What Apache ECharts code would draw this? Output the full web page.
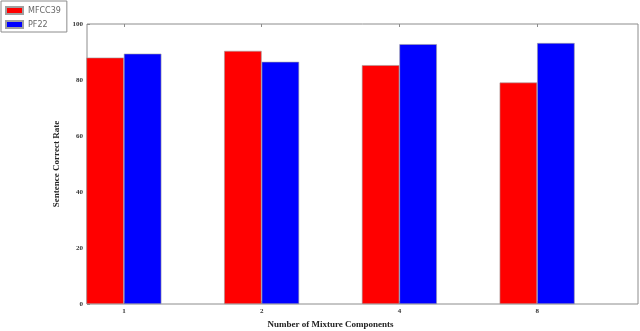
<!DOCTYPE html>
<html>
<head>
<meta charset="utf-8">
<script src="https://cdn.jsdelivr.net/npm/echarts@6/dist/echarts.min.js"></script>
<style>html,body{margin:0;padding:0;background:#fff;}#c{width:640px;height:331px;}</style>
</head>
<body>
<div id="c"></div>
<script>
var categories = ['1', '2', '4', '8'];
var mfcc39 = [88.0, 90.4, 85.3, 79.1];
var pf22 = [89.4, 86.5, 92.8, 93.2];
var seriesNames = ['MFCC39', 'PF22'];
var yMin = 0, yMax = 100, yStep = 20;

var chart = echarts.init(document.getElementById('c'), null, {renderer: 'canvas'});
var serif = 'Liberation Serif, DejaVu Serif, serif';
chart.setOption({
  animation: false,
  backgroundColor: '#fff',
  grid: [
    {left: 87, top: 24, width: 551, height: 280, show: true, borderColor: '#8c8c8c', borderWidth: 1, backgroundColor: 'transparent', outerBoundsMode: 'none', containLabel: false},
    {left: 55, top: 24, width: 551, height: 280, show: false, outerBoundsMode: 'none', containLabel: false}
  ],
  legend: {
    left: 1, top: 1, orient: 'vertical', itemWidth: 17, itemHeight: 7, itemGap: 5,
    padding: [5, 6, 3, 4], borderColor: '#8c8c8c', borderWidth: 1, backgroundColor: '#fff',
    textStyle: {fontFamily: 'DejaVu Sans, sans-serif', fontSize: 8, color: '#666', padding: [0, 0, 0, 0]},
    icon: 'rect',
    data: seriesNames
  },
  xAxis: [
    {gridIndex: 0, type: 'value', min: 0, max: 4, show: false},
    {gridIndex: 1, type: 'category', data: categories, boundaryGap: true, position: 'bottom',
     axisLine: {show: false},
     axisTick: {show: true, inside: true, alignWithLabel: true, length: 3, lineStyle: {color: '#8c8c8c'}},
     axisLabel: {fontFamily: serif, fontSize: 7, fontWeight: 'bold', color: '#333', margin: 4},
     name: 'Number of Mixture Components', nameLocation: 'middle', nameGap: 16,
     nameTextStyle: {fontFamily: serif, fontSize: 9, fontWeight: 'bold', color: '#222'}},
    {gridIndex: 1, type: 'category', data: categories, boundaryGap: true, position: 'top',
     axisLine: {show: false}, axisLabel: {show: false},
     axisTick: {show: true, inside: true, alignWithLabel: true, length: 3, lineStyle: {color: '#8c8c8c'}}}
  ],
  yAxis: [
    {gridIndex: 0, type: 'value', min: yMin, max: yMax, interval: yStep,
     axisLine: {show: false}, splitLine: {show: false},
     axisTick: {show: true, inside: true, length: 3, lineStyle: {color: '#8c8c8c'}},
     axisLabel: {fontFamily: serif, fontSize: 7, fontWeight: 'bold', color: '#333', margin: 4},
     name: 'Sentence Correct Rate', nameLocation: 'middle', nameGap: 26,
     nameTextStyle: {fontFamily: serif, fontSize: 9, fontWeight: 'bold', color: '#222'}},
    {gridIndex: 1, type: 'value', min: yMin, max: yMax, show: false}
  ],
  series: [
    {name: seriesNames[0], type: 'bar', xAxisIndex: 1, yAxisIndex: 1, data: mfcc39,
     barWidth: 37.5, barGap: '0%',
     itemStyle: {color: '#ff0000', borderColor: '#a0a0a0', borderWidth: 0.6}},
    {name: seriesNames[1], type: 'bar', xAxisIndex: 1, yAxisIndex: 1, data: pf22,
     barWidth: 37.5, barGap: '0%',
     itemStyle: {color: '#0000ff', borderColor: '#a0a0a0', borderWidth: 0.6}}
  ]
});
</script>
</body>
</html>
